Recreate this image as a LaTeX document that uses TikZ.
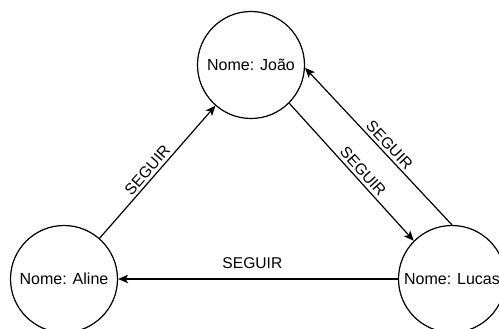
\documentclass[tikz,border=0pt]{standalone}
\usepackage{fontspec}
\setmainfont{Liberation Sans}
\usetikzlibrary{arrows.meta}
\begin{document}
\begin{tikzpicture}[x=1pt,y=-1pt,
  person/.style={draw, circle, line width=1.2pt, minimum size=107pt, inner sep=0pt,
    font=\fontsize{16}{19}\selectfont},
  follows/.style={draw, line width=1.2pt,
    -{Stealth[length=10pt,width=8.5pt,inset=2.5pt]}},
  rel/.style={font=\fontsize{15.6}{18}\selectfont, sloped, anchor=south, inner sep=2.8pt}
]
\useasboundingbox (0,0) rectangle (499,329);
\clip (0,0) rectangle (499,329);

\node[person] (joao)  at (251,65)  {Nome: João};
\node[person] (aline) at (64,279)  {Nome: Aline};
\node[person] (lucas) at (452,279) {Nome: Lucas};

\draw[follows] (aline) -- node[rel, pos=0.47] {SEGUIR} (joao);
\draw[follows] (joao.-45) -- node[rel, pos=0.54] {SEGUIR} (lucas.135);
\draw[follows] (lucas.north) -- node[rel, pos=0.47] {SEGUIR} (joao.-3);
\draw[follows] (lucas.west) -- node[rel, pos=0.52, inner sep=10pt] {SEGUIR} (aline.east);
\end{tikzpicture}
\end{document}
